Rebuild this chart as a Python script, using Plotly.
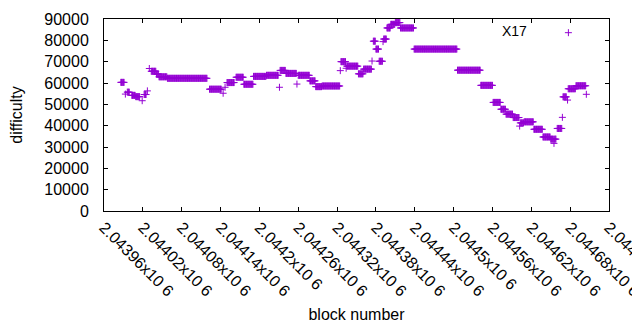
import plotly.graph_objects as go

# Runs of constant difficulty: first block, last block, difficulty
run_start = [2043986, 2043993, 2043996, 2044003, 2044009, 2044019, 2044022, 2044027,
             2044030, 2044033, 2044041, 2044045, 2044058, 2044123, 2044144, 2044147,
             2044150, 2044164, 2044176, 2044191, 2044211, 2044231, 2044232, 2044241,
             2044258, 2044260, 2044278, 2044287, 2044297, 2044325, 2044326, 2044334,
             2044335, 2044353, 2044361, 2044374, 2044376, 2044380, 2044385, 2044391,
             2044392, 2044397, 2044403, 2044410, 2044418, 2044439, 2044506, 2044542,
             2044561, 2044573, 2044581, 2044592, 2044602, 2044603, 2044609, 2044624,
             2044638, 2044650, 2044655, 2044656, 2044660, 2044668, 2044669,
             2044676, 2044677, 2044689, 2044705]
run_end = [2043991, 2043993, 2043999, 2044008, 2044015, 2044019, 2044025, 2044027,
           2044030, 2044040, 2044044, 2044057, 2044119, 2044141, 2044144, 2044147,
           2044161, 2044175, 2044190, 2044210, 2044229, 2044231, 2044240, 2044257,
           2044258, 2044277, 2044286, 2044296, 2044324, 2044325, 2044333, 2044334,
           2044352, 2044360, 2044373, 2044374, 2044379, 2044384, 2044390, 2044391,
           2044396, 2044402, 2044409, 2044417, 2044438, 2044505, 2044541, 2044560,
           2044572, 2044580, 2044591, 2044601, 2044602, 2044608, 2044623, 2044637,
           2044649, 2044654, 2044655, 2044658, 2044667, 2044668, 2044674,
           2044676, 2044688, 2044704, 2044705]
run_value = [60300, 54800, 55700, 54200, 53600, 51700, 54600, 56300,
             66800, 65500, 64200, 62900, 62200, 57100, 55200, 58000,
             60200, 62700, 59400, 63100, 63600, 58000, 65900, 64500,
             59500, 63600, 61000, 58300, 58600, 65800, 70000, 66900,
             67900, 64300, 66500, 70300, 79600, 75900, 70200, 79400,
             80600, 85800, 87500, 88300, 85800, 75900, 66000, 58900,
             50900, 47700, 45400, 43800, 39800, 41300, 41800, 38300,
             34700, 33700, 31700, 33700, 38700, 43900, 53500,
             52000, 57300, 58700, 54700]

x_tick_vals = [2043960, 2044020, 2044080, 2044140, 2044200, 2044260, 2044320,
               2044380, 2044440, 2044500, 2044560, 2044620, 2044680, 2044740]
x_tick_text = ["2.04396x10 6", "2.04402x10 6", "2.04408x10 6", "2.04414x10 6",
               "2.0442x10 6", "2.04426x10 6", "2.04432x10 6", "2.04438x10 6",
               "2.04444x10 6", "2.0445x10 6", "2.04456x10 6", "2.04462x10 6",
               "2.04468x10 6", "2.04474x10 6"]
y_tick_vals = [0, 10000, 20000, 30000, 40000, 50000, 60000, 70000, 80000, 90000]
series_name = "X17"

blocks, diffs = [], []
for s, e, v in zip(run_start, run_end, run_value):
    for b in range(s, e + 1):
        blocks.append(b)
        diffs.append(v)

COLOR = "#9400D3"
FONT = "Liberation Sans, Arial, sans-serif"

fig = go.Figure()
fig.add_trace(go.Scatter(
    x=blocks, y=diffs, mode="markers", name="",
    marker=dict(symbol="cross-thin", size=5, color=COLOR,
                line=dict(color=COLOR, width=1)),
    showlegend=True,
))

axis_common = dict(
    showline=True, linecolor="black", linewidth=1, mirror="ticks",
    ticks="inside", ticklen=4, tickcolor="black", tickwidth=1,
    showgrid=False, zeroline=False,
    tickfont=dict(family=FONT, size=16, color="black"),
)

fig.update_xaxes(
    range=[2043960, 2044740], tickmode="array", tickvals=x_tick_vals,
    ticktext=x_tick_text, tickangle=45, ticklabeloverflow="allow",
    ticklabelstandoff=0,
    title=dict(text="block number", font=dict(family=FONT, size=16, color="black"),
               standoff=10),
    **axis_common,
)
fig.update_yaxes(
    range=[0, 90000], tickmode="array", tickvals=y_tick_vals,
    ticktext=[str(v) for v in y_tick_vals], ticklabelstandoff=11,
    title=dict(text="difficulty", font=dict(family=FONT, size=16, color="black"),
               standoff=18),
    **axis_common,
)

fig.add_annotation(
    text=series_name, xref="paper", yref="paper", x=0.8416, y=0.936,
    xanchor="right", yanchor="middle", showarrow=False,
    font=dict(family=FONT, size=14, color="black"),
)

fig.update_layout(
    width=632, height=322,
    margin=dict(l=96, r=31, t=11, b=119, autoexpand=False),
    paper_bgcolor="white", plot_bgcolor="white",
    font=dict(family=FONT, size=16, color="black"),
    legend=dict(
        x=0.88, y=1.01, xanchor="left", yanchor="top",
        bgcolor="rgba(0,0,0,0)", borderwidth=0,
        font=dict(family=FONT, size=14, color="black"),
    ),
)

fig.write_html("out.html")
